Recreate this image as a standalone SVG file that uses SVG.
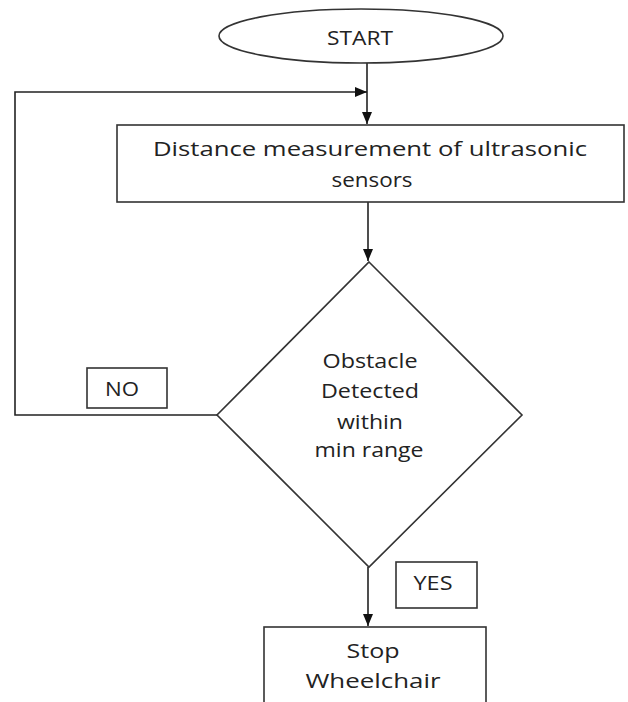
<svg xmlns="http://www.w3.org/2000/svg" width="628" height="702" viewBox="0 0 628 702">
<style>
.shape{fill:#fff;stroke:#333;stroke-width:1.6}
.line{fill:none;stroke:#222;stroke-width:1.6}
.t{font-family:"Open Sans","Liberation Sans",sans-serif;font-size:20px;fill:#222;text-anchor:middle}
</style>
<defs>
<marker id="ah" viewBox="0 0 12 10" refX="12" refY="5" markerWidth="12" markerHeight="10" markerUnits="userSpaceOnUse" orient="auto">
<path d="M0,0 L12,5 L0,10 z" fill="#111"/>
</marker>
</defs>
<rect width="628" height="702" fill="#fff"/>
<g id="connectors">
<line class="line" x1="367" y1="63" x2="367" y2="124" marker-end="url(#ah)"/>
<polyline class="line" points="217,415 15,415 15,92 367,92" marker-end="url(#ah)"/>
<line class="line" x1="368" y1="202" x2="368" y2="261" marker-end="url(#ah)"/>
<line class="line" x1="368" y1="567" x2="368" y2="626" marker-end="url(#ah)"/>
</g>
<g id="start">
<ellipse class="shape" cx="361" cy="36" rx="142" ry="27"/>
<text class="t" x="360" y="45" textLength="66" lengthAdjust="spacingAndGlyphs">START</text>
</g>
<g id="measure">
<rect class="shape" x="117" y="125" width="507" height="77"/>
<text class="t" x="370" y="156" textLength="434" lengthAdjust="spacingAndGlyphs">Distance measurement of ultrasonic</text>
<text class="t" x="372" y="187" textLength="81" lengthAdjust="spacingAndGlyphs">sensors</text>
</g>
<g id="decision">
<polygon class="shape" points="369,262 522,415 369,567 217,415"/>
<text class="t" x="370" y="368" textLength="95" lengthAdjust="spacingAndGlyphs">Obstacle</text>
<text class="t" x="370" y="398" textLength="98" lengthAdjust="spacingAndGlyphs">Detected</text>
<text class="t" x="370" y="429" textLength="66" lengthAdjust="spacingAndGlyphs">within</text>
<text class="t" x="369" y="457" textLength="109" lengthAdjust="spacingAndGlyphs">min range</text>
</g>
<g id="no-label">
<rect class="shape" x="87" y="368" width="80" height="40"/>
<text class="t" x="122" y="396" textLength="34" lengthAdjust="spacingAndGlyphs">NO</text>
</g>
<g id="yes-label">
<rect class="shape" x="396" y="562" width="81" height="46"/>
<text class="t" x="433" y="590" textLength="39" lengthAdjust="spacingAndGlyphs">YES</text>
</g>
<g id="stop">
<rect class="shape" x="264" y="627" width="222" height="90"/>
<text class="t" x="373" y="658" textLength="53" lengthAdjust="spacingAndGlyphs">Stop</text>
<text class="t" x="373" y="688" textLength="135" lengthAdjust="spacingAndGlyphs">Wheelchair</text>
</g>
</svg>
